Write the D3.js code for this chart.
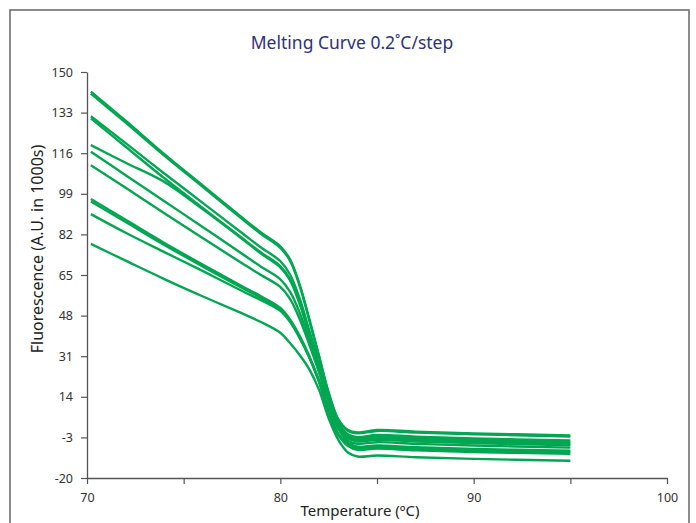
<!DOCTYPE html>
<html><head><meta charset="utf-8">
<script src="https://cdn.jsdelivr.net/npm/d3@7"></script>
<style>body{margin:0;background:#fff}svg{display:block}</style>
</head><body>
<svg id="c" width="696" height="523"></svg>
<script>
const temps = [70.2, 72, 74, 76, 78, 79, 80, 80.5, 81, 81.5, 82, 82.5, 83, 83.5, 84, 85, 87, 90, 95];
const curveA1 = [141.8, 129.6, 115.6, 102.4, 89.2, 82.8, 77.0, 71.6, 61.0, 46.5, 31.2, 15.8, 4.6, 0.1, -0.9, 0.1, -0.6, -1.3, -2.2];
const curveA2 = [141.0, 128.8, 115.0, 101.8, 88.6, 82.2, 76.4, 71.0, 60.4, 46.0, 30.8, 15.5, 4.3, -0.3, -1.3, -0.3, -1.0, -1.7, -2.6];
const curveB1 = [131.5, 120.2, 107.5, 95.1, 82.7, 76.5, 70.8, 65.2, 55.2, 41.7, 28.2, 13.7, 3.1, -1.7, -2.9, -2.0, -2.7, -3.4, -4.3];
const curveB2 = [130.6, 118.7, 105.5, 93.0, 80.6, 74.4, 68.7, 63.2, 53.4, 40.5, 27.4, 13.1, 2.5, -2.3, -3.5, -2.7, -3.4, -4.1, -5.0];
const curveC  = [119.4, 112.0, 104.0, 92.5, 80.3, 74.0, 68.2, 62.8, 52.9, 40.1, 27.1, 12.9, 2.4, -2.9, -4.1, -3.3, -4.0, -4.7, -5.6];
const curveD  = [116.6, 106.8, 95.9, 85.0, 74.0, 68.5, 63.2, 58.0, 49.2, 37.6, 25.4, 11.5, 1.3, -3.4, -4.7, -4.0, -4.7, -5.4, -6.3];
const curveE  = [111.0, 101.5, 90.9, 80.4, 70.0, 65.0, 60.0, 55.0, 46.6, 35.8, 24.2, 10.6, 0.5, -4.4, -5.7, -5.0, -5.7, -6.4, -7.3];
const curveF1 = [96.8, 88.1, 78.4, 69.3, 60.4, 56.1, 51.2, 46.4, 39.5, 31.0, 20.8, 7.9, -1.6, -5.4, -6.9, -6.4, -7.1, -7.8, -8.6];
const curveF2 = [95.8, 87.2, 77.6, 68.5, 59.7, 55.5, 50.5, 45.7, 38.9, 30.6, 20.5, 7.7, -1.8, -6.0, -7.5, -7.0, -7.7, -8.4, -9.2];
const curveG  = [90.5, 82.7, 74.6, 66.6, 58.4, 54.5, 50.0, 45.4, 38.6, 30.4, 20.4, 7.6, -1.9, -6.6, -8.2, -7.7, -8.4, -9.1, -9.9];
const curveH  = [78.0, 71.0, 63.3, 56.0, 49.0, 45.3, 40.8, 36.5, 31.5, 25.5, 17.0, 5.0, -4.0, -9.3, -11.0, -10.6, -11.3, -12.0, -12.8];
const series = [curveA1, curveA2, curveB1, curveB2, curveC, curveD, curveE, curveF1, curveF2, curveG, curveH];

const xTicks = [70, 75, 80, 85, 90, 95, 100];
const xLabels = [70, 80, 90, 100];
const yTicks = [150, 133, 116, 99, 82, 65, 48, 31, 14, -3, -20];

const title = "Melting Curve 0.2˚C/step";
const xTitle = "Temperature (ºC)";
const yTitle = "Fluorescence (A.U. in 1000s)";

const svg = d3.select("#c");
const L = 87, R = 667, T = 72, B = 478;
const font = "'Noto Sans', sans-serif";

svg.append("rect").attr("x", 10).attr("y", 10).attr("width", 679).attr("height", 540)
  .attr("fill", "none").attr("stroke", "#6e6e6e").attr("stroke-width", 1.6);

const x = d3.scaleLinear().domain([70, 100]).range([L, R]);
const y = d3.scaleLinear().domain([-20, 150]).range([B, T]);

const line = d3.line().x((d, i) => x(temps[i])).y(d => y(d)).curve(d3.curveCatmullRom.alpha(0.5));
svg.append("g").selectAll("path").data(series).join("path")
  .attr("d", line).attr("fill", "none").attr("stroke", "#00a651").attr("stroke-width", 2.4)
  .attr("stroke-linejoin", "round");

const xa = svg.append("g").attr("transform", `translate(0,${B})`)
  .call(d3.axisBottom(x).tickValues(xTicks).tickSize(6).tickSizeOuter(0).tickPadding(9)
    .tickFormat(d => xLabels.includes(d) ? String(d) : ""));
const ya = svg.append("g").attr("transform", `translate(${L},0)`)
  .call(d3.axisLeft(y).tickValues(yTicks).tickSize(6).tickSizeOuter(0).tickPadding(8)
    .tickFormat(d => String(d)));
[xa, ya].forEach(g => {
  g.select(".domain").attr("stroke", "#555").attr("stroke-width", 1.3);
  g.selectAll(".tick line").attr("stroke", "#555").attr("stroke-width", 1.2);
  g.selectAll(".tick text").attr("fill", "#333").attr("font-family", font).attr("font-size", 12.5);
});

svg.append("text").attr("x", 352).attr("y", 49).attr("text-anchor", "middle")
  .attr("font-family", font).attr("font-size", 17.5).attr("fill", "#2f3278").text(title);
svg.append("text").attr("x", 360).attr("y", 516).attr("text-anchor", "middle")
  .attr("font-family", font).attr("font-size", 15).attr("fill", "#222").text(xTitle);
svg.append("text").attr("transform", "translate(43,249) rotate(-90)").attr("text-anchor", "middle")
  .attr("font-family", font).attr("font-size", 16).attr("fill", "#222").text(yTitle);
</script>
</body></html>
